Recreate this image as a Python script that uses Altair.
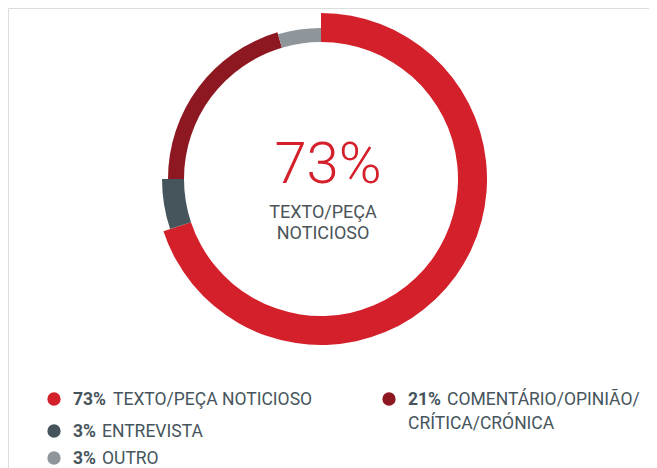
import altair as alt
import pandas as pd
import math

# ---- data ----
categories = ["TEXTO/PEÇA NOTICIOSO", "ENTREVISTA", "COMENTÁRIO/OPINIÃO/CRÍTICA/CRÓNICA", "OUTRO"]
label_pct = [73, 3, 21, 3]            # values printed in the legend
arc_share = [69.9, 5.1, 20.4, 4.6]    # angular share of each slice as drawn

# ---- styles ----
colors = ["#D3202A", "#46555C", "#8E1822", "#8E959B"]
ring_outer = [166, 159, 153, 151]     # outer radius of each slice (px)
ring_inner = 137
FONT = "Roboto"
TXT = "#46555C"

OX, OY = 8, 8  # page margin offset

arc_df = pd.DataFrame({
    "cat": categories,
    "share": arc_share,
    "idx": list(range(len(categories))),
    "outer": ring_outer,
})

color_scale = alt.Scale(domain=categories, range=colors)

donut = alt.Chart(arc_df).transform_window(
    cum="sum(share)", sort=[alt.SortField("idx")], frame=[None, 0]
).transform_calculate(
    start="datum.cum - datum.share"
).mark_arc().encode(
    theta=alt.Theta("start:Q", scale=alt.Scale(domain=[0, 100], range=[0, 2 * math.pi])),
    theta2="cum:Q",
    color=alt.Color("cat:N", scale=color_scale, legend=None),
    radius=alt.Radius("outer:Q", scale=None),
    radius2=alt.value(ring_inner),
    x=alt.value(321 - OX),
    y=alt.value(179 - OY),
)

center_big = alt.Chart(pd.DataFrame({"t": [f"{label_pct[0]}%"]})).mark_text(
    font=FONT, fontSize=58, fontWeight=300, color=colors[0], align="center", baseline="alphabetic"
).encode(text="t:N", x=alt.value(328 - OX), y=alt.value(183 - OY))

center_sub = alt.Chart(pd.DataFrame({"t": ["TEXTO/PEÇA", "NOTICIOSO"], "yy": [218 - OY, 239 - OY]})).mark_text(
    font=FONT, fontSize=18, color="#4A5459", align="center", baseline="alphabetic"
).encode(text="t:N", x=alt.value(323 - OX), y=alt.Y("yy:Q", scale=None))

# ---- custom legend ----
leg_text = ["TEXTO/PEÇA NOTICIOSO", "ENTREVISTA", "OUTRO", "COMENTÁRIO/OPINIÃO/"]
leg_pct = [label_pct[0], label_pct[1], label_pct[3], label_pct[2]]
leg_col = [colors[0], colors[1], colors[3], colors[2]]
leg_dot_x = [54, 54, 54, 389]
leg_dot_y = [399, 431, 458, 399]
leg_base_y = [405, 437, 464, 405]
leg_bold_x = [73, 73, 73, 408]
leg_rest_x = [113, 102, 102, 447]

leg_df = pd.DataFrame({
    "pct": [f"{p}%" for p in leg_pct],
    "txt": leg_text,
    "col": leg_col,
    "dx": [v - OX for v in leg_dot_x],
    "dy": [v - OY for v in leg_dot_y],
    "bx": [v - OX for v in leg_bold_x],
    "rx": [v - OX for v in leg_rest_x],
    "yy": [v - OY for v in leg_base_y],
})

dots = alt.Chart(leg_df).mark_point(filled=True, shape="circle", size=177, opacity=1).encode(
    x=alt.X("dx:Q", scale=None), y=alt.Y("dy:Q", scale=None),
    color=alt.Color("col:N", scale=None),
)
bold = alt.Chart(leg_df).mark_text(
    font=FONT, fontSize=17.5, fontWeight="bold", color=TXT, align="left", baseline="alphabetic"
).encode(x=alt.X("bx:Q", scale=None), y=alt.Y("yy:Q", scale=None), text="pct:N")
rest = alt.Chart(leg_df).mark_text(
    font=FONT, fontSize=17.5, color=TXT, align="left", baseline="alphabetic"
).encode(x=alt.X("rx:Q", scale=None), y=alt.Y("yy:Q", scale=None), text="txt:N")

line2 = alt.Chart(pd.DataFrame({"t": ["CRÍTICA/CRÓNICA"]})).mark_text(
    font=FONT, fontSize=17.5, color=TXT, align="left", baseline="alphabetic"
).encode(text="t:N", x=alt.value(408 - OX), y=alt.value(429 - OY))

chart = alt.layer(donut, center_big, center_sub, dots, bold, rest, line2).properties(
    width=641, height=460, padding=0, autosize=alt.AutoSizeParams(type="none")
).configure_view(stroke=None).configure(background="white")

chart.save("out.html", embed_options={"renderer": "svg", "actions": False})
